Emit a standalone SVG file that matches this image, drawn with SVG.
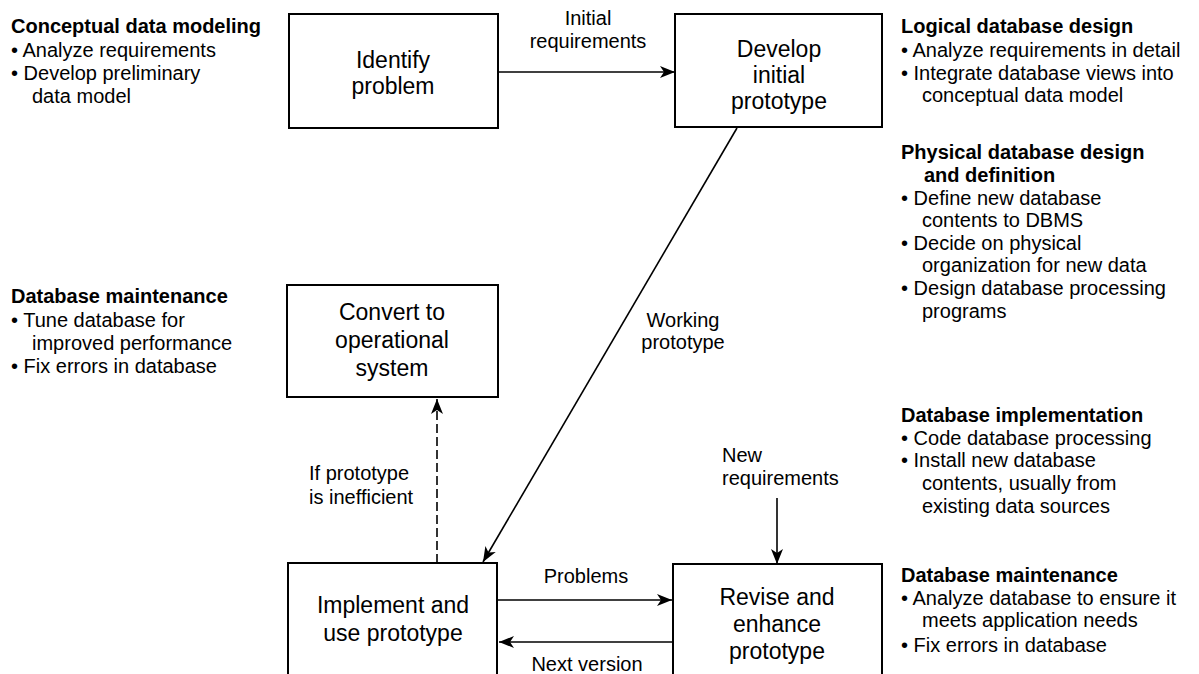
<svg xmlns="http://www.w3.org/2000/svg" width="1199" height="674" viewBox="0 0 1199 674">
<defs>
<marker id="ah" markerUnits="userSpaceOnUse" markerWidth="16" markerHeight="12" refX="15" refY="6" orient="auto">
<path d="M0,0 L15,6 L0,12 L4,6 Z" fill="#000"/>
</marker>
<style>
.box{fill:#fff;stroke:#000;stroke-width:2}
.bt{font-family:"Liberation Sans",Arial,sans-serif;font-size:23px;fill:#000;text-anchor:middle}
.lbl{font-family:"Liberation Sans",Arial,sans-serif;font-size:20px;fill:#000}
.side{font-family:"Liberation Sans",Arial,sans-serif;font-size:20px;fill:#000}
.hd{font-weight:bold}
.c{fill:none;stroke:#000;stroke-width:1.6;marker-end:url(#ah)}
.dash{stroke-dasharray:9 4}
</style>
</defs>
<rect width="1199" height="674" fill="#fff"/>

<g id="connectors">
<line class="c" x1="498" y1="72" x2="675" y2="72"/>
<line class="c" x1="737" y1="128" x2="483" y2="562"/>
<line class="c dash" x1="437" y1="563" x2="437" y2="399"/>
<line class="c" x1="497" y1="600" x2="672" y2="600"/>
<line class="c" x1="673" y1="642" x2="499" y2="642"/>
<line class="c" x1="777" y1="498" x2="777" y2="564"/>
<text class="lbl" x="588" y="25" text-anchor="middle">Initial</text>
<text class="lbl" x="588" y="48" text-anchor="middle">requirements</text>
<text class="lbl" x="683" y="327" text-anchor="middle">Working</text>
<text class="lbl" x="683" y="349" text-anchor="middle">prototype</text>
<text class="lbl" x="309" y="480">If prototype</text>
<text class="lbl" x="309" y="504">is inefficient</text>
<text class="lbl" x="722" y="462">New</text>
<text class="lbl" x="722" y="485">requirements</text>
<text class="lbl" x="586" y="583" text-anchor="middle">Problems</text>
<text class="lbl" x="587" y="671" text-anchor="middle">Next version</text>
</g>

<g id="identify">
<rect class="box" x="289" y="14" width="209" height="114"/>
<text class="bt" x="393" y="68">Identify</text>
<text class="bt" x="393" y="94">problem</text>
</g>
<g id="develop">
<rect class="box" x="675" y="14" width="207" height="113"/>
<text class="bt" x="779" y="57">Develop</text>
<text class="bt" x="779" y="83">initial</text>
<text class="bt" x="779" y="109">prototype</text>
</g>
<g id="convert">
<rect class="box" x="287" y="285" width="211" height="112"/>
<text class="bt" x="392" y="320">Convert to</text>
<text class="bt" x="392" y="348">operational</text>
<text class="bt" x="392" y="376">system</text>
</g>
<g id="implement">
<rect class="box" x="288" y="563" width="209" height="130"/>
<text class="bt" x="393" y="613">Implement and</text>
<text class="bt" x="393" y="641">use prototype</text>
</g>
<g id="revise">
<rect class="box" x="673" y="564" width="209" height="130"/>
<text class="bt" x="777" y="605">Revise and</text>
<text class="bt" x="777" y="632">enhance</text>
<text class="bt" x="777" y="659">prototype</text>
</g>

<g id="conceptual">
<text class="side hd" x="11" y="33">Conceptual data modeling</text>
<text class="side" x="11" y="57">• Analyze requirements</text>
<text class="side" x="11" y="80">• Develop preliminary</text>
<text class="side" x="32" y="103">data model</text>
</g>
<g id="maint-left">
<text class="side hd" x="11" y="303">Database maintenance</text>
<text class="side" x="11" y="327">• Tune database for</text>
<text class="side" x="32" y="350">improved performance</text>
<text class="side" x="11" y="373">• Fix errors in database</text>
</g>
<g id="logical">
<text class="side hd" x="901" y="33">Logical database design</text>
<text class="side" x="901" y="57">• Analyze requirements in detail</text>
<text class="side" x="901" y="80">• Integrate database views into</text>
<text class="side" x="922" y="102">conceptual data model</text>
</g>
<g id="physical">
<text class="side hd" x="901" y="159">Physical database design</text>
<text class="side hd" x="924" y="182">and definition</text>
<text class="side" x="901" y="205">• Define new database</text>
<text class="side" x="922" y="227">contents to DBMS</text>
<text class="side" x="901" y="250">• Decide on physical</text>
<text class="side" x="922" y="272">organization for new data</text>
<text class="side" x="901" y="295">• Design database processing</text>
<text class="side" x="922" y="318">programs</text>
</g>
<g id="implementation">
<text class="side hd" x="901" y="422">Database implementation</text>
<text class="side" x="901" y="445">• Code database processing</text>
<text class="side" x="901" y="467">• Install new database</text>
<text class="side" x="922" y="490">contents, usually from</text>
<text class="side" x="922" y="513">existing data sources</text>
</g>
<g id="maint-right">
<text class="side hd" x="901" y="582">Database maintenance</text>
<text class="side" x="901" y="605">• Analyze database to ensure it</text>
<text class="side" x="922" y="627">meets application needs</text>
<text class="side" x="901" y="652">• Fix errors in database</text>
</g>
</svg>
